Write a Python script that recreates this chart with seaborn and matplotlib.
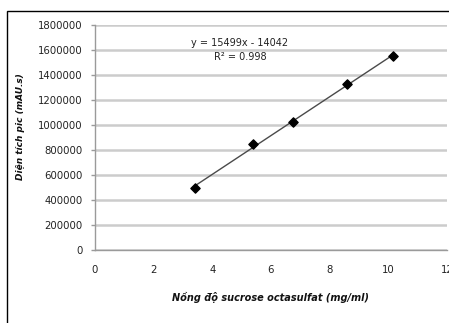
import matplotlib
matplotlib.use("Agg")
import matplotlib.pyplot as plt
import seaborn as sns
import numpy as np
import pandas as pd
from matplotlib.patches import Rectangle

# Data
concentration = [3.4, 5.4, 6.75, 8.6, 10.15]
peak_area = [495000, 850000, 1025000, 1325000, 1550000]
equation_text = "y = 15499x - 14042"
r2_text = "R² = 0.998"
x_ticks = [0, 2, 4, 6, 8, 10, 12]
y_ticks = [0, 200000, 400000, 600000, 800000, 1000000, 1200000, 1400000, 1600000, 1800000]
x_label = "Nồng độ sucrose octasulfat (mg/ml)"
y_label = "Diện tích pic (mAU.s)"

df = pd.DataFrame({"x": concentration, "y": peak_area})

sns.set_theme(style="white")
plt.rcParams['font.family'] = ['DejaVu Sans']

fig = plt.figure(figsize=(4.49, 3.23), dpi=100)
fig.patch.set_facecolor("white")
# outer chart frame (cropped at right/bottom)
fig.add_artist(Rectangle((7 / 449, -0.05), 1.2, 1 - 11 / 323 + 0.05,
                         transform=fig.transFigure, fill=False,
                         edgecolor="black", linewidth=1.0))

ax = fig.add_axes([95 / 449, 1 - 250 / 323, 352 / 449, 225 / 323])

sns.regplot(data=df, x="x", y="y", ax=ax, ci=None, truncate=True,
            marker="D",
            scatter_kws=dict(s=22, color="black", edgecolors="black", alpha=1, zorder=4),
            line_kws=dict(color="#4a4a4a", linewidth=1.0, zorder=3))

ax.set_xlim(0, 12)
ax.set_ylim(0, 1800000)
ax.set_xticks(x_ticks)
ax.set_yticks(y_ticks)
ax.set_xticklabels([str(t) for t in x_ticks])
ax.set_yticklabels([str(t) for t in y_ticks])
ax.yaxis.grid(True, color="#cccccc", linewidth=1.8)
ax.xaxis.grid(False)
ax.set_axisbelow(True)

for s in ["top", "right"]:
    ax.spines[s].set_visible(False)
for s in ["left", "bottom"]:
    ax.spines[s].set_color("#9a9a9a")
    ax.spines[s].set_linewidth(1.0)

ax.tick_params(axis="y", which="both", left=True, length=3, width=1.0,
               color="#9a9a9a", pad=6, labelsize=7.3, labelcolor="#222222")
ax.tick_params(axis="x", which="both", bottom=False, length=0, pad=11,
               labelsize=7.3, labelcolor="#222222")

ax.set_xlabel(x_label, fontsize=7, fontweight="bold", fontstyle="italic", color="#111111")
ax.set_ylabel(y_label, fontsize=6.5, fontweight="bold", fontstyle="italic", color="#111111")
ax.xaxis.set_label_coords(0.5, -0.185)
ax.yaxis.set_label_coords(-0.199, 0.55)

ax.text(0.412, 0.92, equation_text, transform=ax.transAxes, ha="center", va="center",
        fontsize=7, color="#222222")
ax.text(0.412, 0.857, r2_text, transform=ax.transAxes, ha="center", va="center",
        fontsize=7, color="#222222")

fig.savefig("out.png", dpi=100, facecolor="white")
